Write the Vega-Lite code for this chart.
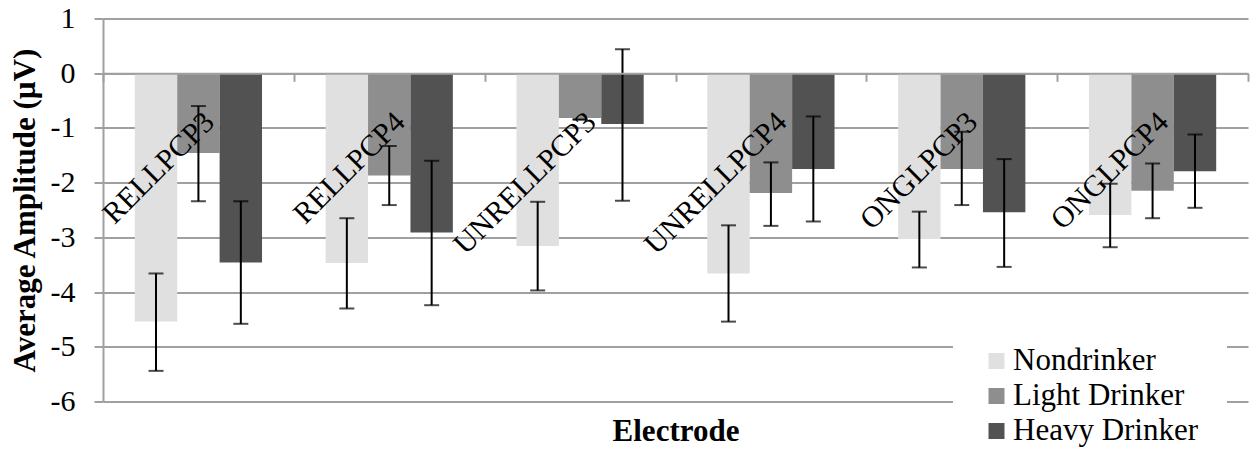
{
  "$schema": "https://vega.github.io/schema/vega-lite/v6.json",
  "width": 1145,
  "height": 383,
  "autosize": {"type": "none"},
  "padding": {"left": 103, "top": 18.5, "right": 3, "bottom": 49.5},
  "background": "white",
  "config": {
    "view": {"stroke": null},
    "font": "Liberation Serif",
    "axis": {"labelFont": "Liberation Serif", "titleFont": "Liberation Serif"},
    "legend": {"labelFont": "Liberation Serif", "titleFont": "Liberation Serif"}
  },
  "data": {
    "values": [
      {"electrode": "RELLPCP3", "group": "Nondrinker", "value": -4.54, "lo": -5.44, "hi": -3.66},
      {"electrode": "RELLPCP3", "group": "Light Drinker", "value": -1.46, "lo": -2.34, "hi": -0.6},
      {"electrode": "RELLPCP3", "group": "Heavy Drinker", "value": -3.46, "lo": -4.58, "hi": -2.34},
      {"electrode": "RELLPCP4", "group": "Nondrinker", "value": -3.47, "lo": -4.3, "hi": -2.65},
      {"electrode": "RELLPCP4", "group": "Light Drinker", "value": -1.87, "lo": -2.41, "hi": -1.33},
      {"electrode": "RELLPCP4", "group": "Heavy Drinker", "value": -2.91, "lo": -4.24, "hi": -1.6},
      {"electrode": "UNRELLPCP3", "group": "Nondrinker", "value": -3.16, "lo": -3.97, "hi": -2.35},
      {"electrode": "UNRELLPCP3", "group": "Light Drinker", "value": -0.82, "lo": -0.85, "hi": -0.84},
      {"electrode": "UNRELLPCP3", "group": "Heavy Drinker", "value": -0.93, "lo": -2.33, "hi": 0.44},
      {"electrode": "UNRELLPCP4", "group": "Nondrinker", "value": -3.66, "lo": -4.54, "hi": -2.78},
      {"electrode": "UNRELLPCP4", "group": "Light Drinker", "value": -2.19, "lo": -2.79, "hi": -1.63},
      {"electrode": "UNRELLPCP4", "group": "Heavy Drinker", "value": -1.75, "lo": -2.71, "hi": -0.79},
      {"electrode": "ONGLPCP3", "group": "Nondrinker", "value": -3.03, "lo": -3.55, "hi": -2.53},
      {"electrode": "ONGLPCP3", "group": "Light Drinker", "value": -1.75, "lo": -2.41, "hi": -1.07},
      {"electrode": "ONGLPCP3", "group": "Heavy Drinker", "value": -2.54, "lo": -3.54, "hi": -1.57},
      {"electrode": "ONGLPCP4", "group": "Nondrinker", "value": -2.59, "lo": -3.18, "hi": -2.02},
      {"electrode": "ONGLPCP4", "group": "Light Drinker", "value": -2.15, "lo": -2.65, "hi": -1.65},
      {"electrode": "ONGLPCP4", "group": "Heavy Drinker", "value": -1.79, "lo": -2.46, "hi": -1.12}
    ]
  },
  "encoding": {
    "x": {
      "field": "electrode",
      "type": "nominal",
      "sort": null,
      "scale": {"paddingInner": 0, "paddingOuter": 0},
      "axis": {
        "orient": "bottom",
        "offset": -328.2,
        "zindex": 1,
        "grid": false,
        "title": "Electrode",
        "titleFont": "Liberation Serif",
        "titleFontSize": 31,
        "titleFontWeight": "bold",
        "titleColor": "black",
        "titleY": 366.7,
        "titleBaseline": "alphabetic",
        "labelAngle": -45,
        "labelAlign": "right",
        "labelBaseline": "top",
        "labelFont": "Liberation Serif",
        "labelFontSize": 30,
        "labelColor": "black",
        "labelPadding": 25,
        "labelDx": -5,
        "labelDy": -9.5,
        "labelLimit": 0,
        "labelOverlap": false,
        "labelBound": false,
        "labelFlush": false,
        "tickBand": "extent",
        "tickSize": 8,
        "tickColor": "#a0a0a0",
        "tickWidth": 2,
        "domainColor": "#a0a0a0",
        "domainWidth": 2
      }
    },
    "xOffset": {
      "field": "group",
      "type": "nominal",
      "sort": ["Nondrinker", "Light Drinker", "Heavy Drinker"],
      "scale": {"paddingInner": 0, "paddingOuter": 0.75}
    }
  },
  "layer": [
    {
      "mark": {"type": "bar"},
      "encoding": {
        "y": {
          "field": "value",
          "type": "quantitative",
          "scale": {"domain": [-6, 1], "nice": false, "zero": false},
          "axis": {
            "title": "Average Amplitude (µV)",
            "titleFont": "Liberation Serif",
            "titleFontSize": 31,
            "titleFontWeight": "bold",
            "titleColor": "black",
            "titleX": -78,
            "titleBaseline": "middle",
            "values": [-6, -5, -4, -3, -2, -1, 0, 1],
            "labelExpr": "datum.value + ''",
            "labelFont": "Liberation Serif",
            "labelFontSize": 30,
            "labelColor": "black",
            "labelPadding": 19,
            "tickSize": 9,
            "tickColor": "#a0a0a0",
            "tickWidth": 2,
            "domainColor": "#a0a0a0",
            "domainWidth": 2,
            "gridColor": "#a0a0a0",
            "gridWidth": 2,
            "gridOpacity": 1
          }
        },
        "color": {
          "field": "group",
          "type": "nominal",
          "sort": ["Nondrinker", "Light Drinker", "Heavy Drinker"],
          "scale": {"domain": ["Nondrinker", "Light Drinker", "Heavy Drinker"], "range": ["#e0e0e0", "#8e8e8e", "#525252"]},
          "legend": {
            "title": null,
            "orient": "none",
            "legendX": 850,
            "legendY": 299,
            "fillColor": "white",
            "padding": 28,
            "symbolType": "square",
            "symbolSize": 256,
            "symbolStrokeWidth": 0,
            "symbolOpacity": 1,
            "labelFont": "Liberation Serif",
            "labelFontSize": 31,
            "labelColor": "black",
            "labelOffset": 1,
            "labelLimit": 0,
            "rowPadding": 3
          }
        }
      }
    },
    {
      "mark": {"type": "rule", "color": "black", "strokeWidth": 2},
      "encoding": {
        "y": {"field": "lo", "type": "quantitative", "title": "Average Amplitude (µV)"},
        "y2": {"field": "hi"}
      }
    },
    {
      "mark": {"type": "tick", "color": "black", "thickness": 2, "size": 15, "orient": "horizontal"},
      "encoding": {
        "y": {"field": "lo", "type": "quantitative", "title": "Average Amplitude (µV)"}
      }
    },
    {
      "mark": {"type": "tick", "color": "black", "thickness": 2, "size": 15, "orient": "horizontal"},
      "encoding": {
        "y": {"field": "hi", "type": "quantitative", "title": "Average Amplitude (µV)"}
      }
    }
  ]
}
